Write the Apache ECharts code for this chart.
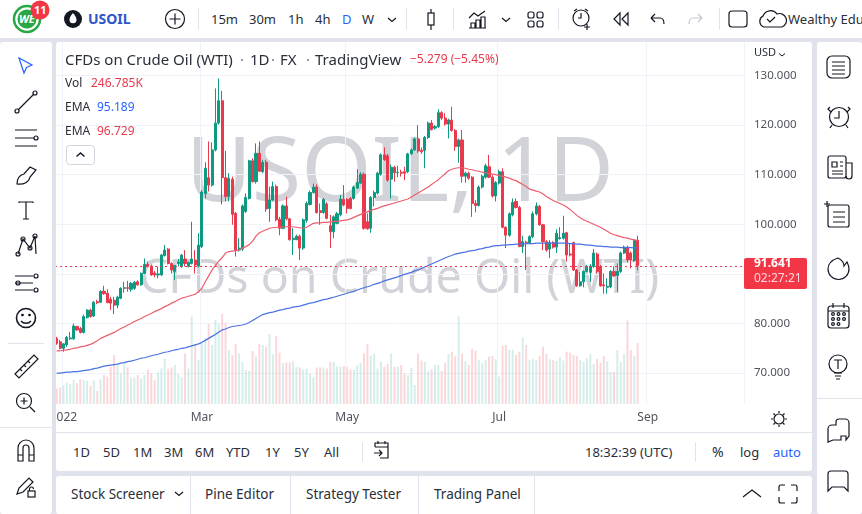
<!DOCTYPE html>
<html>
<head>
<meta charset="utf-8">
<title>USOIL 1D</title>
<script src="https://cdn.jsdelivr.net/npm/echarts@6/dist/echarts.min.js"></script>
<style>
  html, body { margin: 0; padding: 0; background: #e0e3eb; overflow: hidden; }
  #chrome { position: absolute; left: 0; top: 0; }
  #chrome text { font-family: "Noto Sans", sans-serif; font-size: 13px; fill: #2a2e39; }
  #chart { position: absolute; left: 56px; top: 42px; width: 756px; height: 391px; }
</style>
</head>
<body>
<svg id="chrome" width="862" height="514" xmlns="http://www.w3.org/2000/svg"></svg>
<div id="chart"></div>
<script>
// USOIL daily candles
const opens = [
  77.0,76.3,75.0,75.7,76.9,76.9,79.4,79.0,78.2,81.2,
  82.7,81.5,84.4,84.3,86.5,86.1,84.9,84.7,83.7,85.1,
  87.1,87.2,86.9,87.1,88.4,87.8,90.1,91.9,91.6,90.2,
  89.8,89.8,93.7,95.0,92.1,90.5,92.1,91.5,93.0,91.5,
  92.1,92.8,91.6,95.5,106.2,109.4,107.9,115.0,120.4,124.9,
  109.4,105.6,109.1,102.2,94.8,95.0,102.6,105.2,112.8,108.6,
  114.3,110.6,112.5,103.2,104.9,107.6,101.0,99.2,103.7,101.1,
  96.9,96.9,97.6,95.2,100.8,104.0,106.4,107.5,102.75,102.4,
  104.1,99.7,98.5,100.2,101.9,105.0,105.0,105.2,105.2,107.3,
  108.3,110.1,100.5,99.2,105.4,106.3,110.1,114.0,113.8,109.1,
  111.5,110.4,110.5,110.6,110.6,114.2,115.0,117.2,114.9,114.9,
  117.5,120.4,119.4,119.7,122.5,121.4,120.2,121.0,118.9,115.7,
  117.0,109.7,110.3,109.5,104.2,103.8,107.5,109.5,111.6,109.5,
  105.7,108.3,110.6,99.4,97.8,101.9,104.6,103.4,95.5,96.4,
  96.3,97.5,102.1,103.6,99.9,96.5,95.0,96.3,95.4,97.1,
  97.2,98.3,94.0,96.3,90.8,87.6,88.4,90.5,90.3,91.5,
  94.0,91.5,87.8,87.3,87.4,90.5,89.7,90.5,94.2,95.4,
  94.2,92.7,96.8
];
const closes = [
  76.0,75.0,75.9,77.2,77.1,79.5,78.7,78.2,81.4,82.7,
  81.4,84.3,84.2,86.5,86.0,84.2,84.1,83.7,85.3,87.1,
  87.2,87.1,88.1,88.3,87.8,90.1,91.9,91.5,89.8,89.8,
  90.0,93.8,94.8,92.1,90.8,91.7,92.4,93.8,92.1,92.3,
  93.0,91.8,95.8,106.5,111.3,107.9,115.0,120.4,124.9,109.4,
  105.6,109.3,102.0,94.8,95.2,103.7,105.4,112.8,108.6,114.3,
  110.7,112.5,103.1,104.9,107.6,100.9,99.2,103.7,101.1,96.9,
  97.2,97.6,95.2,100.9,104.2,106.4,107.5,102.35,102.35,105.0,
  101.2,98.5,101.5,102.1,105.1,103.9,103.2,103.2,107.5,108.4,
  110.1,99.2,99.1,105.4,106.4,110.3,114.0,113.0,108.9,111.5,
  110.4,110.5,110.3,110.3,114.2,115.0,117.2,114.8,114.6,117.5,
  120.4,119.1,119.7,122.5,121.4,120.2,121.0,118.9,115.7,117.0,
  109.7,110.3,109.3,104.2,103.8,107.5,109.7,111.8,109.5,105.7,
  108.4,110.6,99.4,97.8,102.1,104.4,103.4,95.5,96.5,96.3,
  97.5,102.1,103.7,99.9,96.5,94.8,96.3,95.4,98.2,97.3,
  98.2,93.8,93.8,90.8,87.6,88.4,90.5,91.5,91.6,94.2,
  90.5,87.6,87.6,87.5,90.5,89.6,90.5,94.2,95.4,92.8,
  92.8,96.8,91.641
];
const highs = [
  77.3,76.7,76.0,77.5,78.3,80.0,79.5,79.3,81.8,82.9,
  83.0,84.5,84.8,86.7,87.6,86.9,85.4,85.4,85.6,87.3,
  88.4,88.6,88.4,88.6,88.7,90.3,93.1,92.5,91.9,90.6,
  91.5,94.0,95.8,95.2,92.3,91.8,93.0,94.0,94.8,92.5,
  100.5,94.8,98.2,106.9,112.5,116.7,116.5,127.4,129.4,126.9,
  114.8,110.3,109.6,102.5,97.2,104.0,106.2,113.0,113.3,116.3,
  116.7,113.0,113.0,107.6,108.6,108.0,101.5,104.0,105.6,101.3,
  99.2,97.9,97.9,101.2,104.6,106.8,108.2,108.0,104.2,105.3,
  104.5,101.9,101.8,102.5,105.9,107.9,105.3,105.5,107.8,111.1,
  110.5,110.4,102.2,105.7,106.8,110.6,114.3,115.5,114.2,112.0,
  111.8,111.8,111.0,111.6,114.4,115.3,117.5,120.0,115.5,117.8,
  120.7,121.0,120.0,123.2,122.8,122.4,121.3,123.7,119.2,117.3,
  119.0,110.6,110.6,109.7,104.9,107.8,110.0,112.2,114.0,109.9,
  108.7,111.0,111.3,99.6,102.4,105.2,105.2,103.7,97.7,96.7,
  97.8,102.6,104.4,103.9,100.1,96.8,96.8,96.6,99.0,99.4,
  101.7,98.5,96.2,96.5,91.0,90.4,90.7,91.8,92.0,95.0,
  94.3,91.8,90.1,89.1,90.8,91.5,92.1,94.5,95.7,95.7,
  94.5,97.0,97.7
];
const lows = [
  75.7,74.8,74.3,75.3,76.7,76.7,78.5,78.0,78.0,81.0,
  81.2,81.3,83.9,84.1,85.8,84.1,82.7,81.9,83.1,84.9,
  86.2,86.4,86.4,86.8,87.6,87.6,89.9,91.3,89.6,89.3,
  89.1,89.6,93.5,91.9,90.1,88.8,91.5,91.2,91.5,91.3,
  91.9,90.1,91.3,95.2,105.2,106.6,107.6,114.7,120.1,104.0,
  104.6,104.6,99.9,93.5,94.5,94.6,102.3,105.0,108.4,108.2,
  110.5,110.3,102.5,100.5,104.7,100.6,97.8,99.0,100.8,96.7,
  93.8,96.8,92.8,94.8,100.3,103.8,106.2,102.2,99.9,102.1,
  101.0,95.2,97.2,100.0,101.6,103.6,102.2,103.0,105.0,107.1,
  108.1,98.9,98.9,98.3,103.6,106.0,109.8,112.8,108.6,105.2,
  108.6,109.5,109.6,108.9,110.3,114.0,114.8,114.4,114.2,111.3,
  117.2,118.9,119.1,119.4,121.0,119.9,117.3,118.7,114.8,112.4,
  108.4,108.4,109.0,101.5,102.4,103.6,107.2,109.2,109.3,105.4,
  104.6,108.0,99.2,95.2,97.5,101.6,103.2,95.4,94.2,90.8,
  96.0,97.2,101.8,99.7,94.8,94.5,93.2,95.1,94.2,96.9,
  96.9,92.5,93.5,90.6,87.4,87.4,87.3,90.3,88.4,91.2,
  90.1,87.4,86.0,86.0,87.1,89.4,86.4,90.2,94.0,92.3,
  91.1,92.4,90.7
];
// volume, thousands
const volumes = [
  63,67,77,86,81,97,84,101,97,95,
  73,95,53,100,117,111,151,198,158,124,
  165,148,107,107,117,104,117,140,124,97,
  128,144,185,143,148,158,121,108,205,144,
  354,239,178,246,266,324,239,340,324,365,
  327,219,198,243,205,171,138,134,215,192,
  243,239,232,284,201,275,208,167,169,169,
  174,151,148,140,143,124,108,147,148,147,
  144,171,171,151,151,154,151,140,138,158,
  167,205,243,196,203,144,171,151,162,205,
  151,151,158,124,117,147,77,205,176,171,
  134,140,158,158,134,167,203,212,194,356,
  205,174,158,223,216,178,165,178,192,194,
  181,111,236,239,219,219,198,212,270,239,
  178,182,178,194,232,203,182,178,174,189,
  176,212,208,198,194,178,171,185,203,162,
  182,167,194,174,130,130,219,171,203,338,
  219,194,246.785
];
const emaRed = [
  74.5,74.5,74.6,74.7,74.8,75.0,75.1,75.3,75.4,75.6,
  75.8,76.1,76.5,77.0,77.3,77.6,77.9,78.2,78.6,79.0,
  79.3,79.7,80.0,80.4,80.7,81.0,81.4,81.7,82.0,82.4,
  82.7,83.0,83.4,83.7,84.1,84.4,84.8,85.1,85.3,85.5,
  85.7,85.9,86.4,87.1,88.4,89.6,90.8,91.7,92.6,93.3,
  94.2,94.5,94.6,94.7,94.8,95.2,95.5,95.9,96.6,97.6,
  98.3,98.6,98.9,99.2,99.3,99.4,99.4,99.5,99.5,99.5,
  99.5,99.4,99.3,99.2,99.4,99.8,100.2,100.3,100.3,100.4,
  100.4,100.5,100.6,100.6,100.7,100.8,100.9,101.1,101.4,101.7,
  102.0,102.3,102.5,102.8,103.0,103.2,103.5,103.7,103.9,104.1,
  104.3,104.5,104.7,104.9,105.1,105.5,105.9,106.3,106.7,107.1,
  107.5,108.0,108.5,109.0,109.6,110.2,110.8,111.1,111.3,111.4,
  111.4,111.3,111.1,111.0,110.8,110.7,110.5,110.4,110.2,110.1,
  110.0,109.8,109.7,109.5,109.3,109.0,108.8,108.4,108.0,107.6,
  107.1,106.9,106.7,106.5,106.1,105.6,105.2,104.8,104.5,104.2,
  103.9,103.5,103.0,102.4,101.8,101.3,100.9,100.6,100.3,100.0,
  99.7,99.4,99.0,98.6,98.2,97.9,97.7,97.5,97.3,97.2,
  97.0,96.85,96.729
];
const emaBlue = [
  70.0,70.0,70.1,70.2,70.2,70.3,70.3,70.4,70.5,70.6,
  70.7,70.9,71.0,71.2,71.4,71.5,71.6,71.7,71.8,72.0,
  72.1,72.3,72.4,72.6,72.8,73.0,73.1,73.3,73.5,73.65,
  73.8,74.0,74.2,74.3,74.5,74.7,74.8,75.0,75.1,75.3,
  75.5,75.7,75.9,76.2,76.6,77.0,77.4,77.8,78.3,78.7,
  78.9,79.2,79.4,79.5,79.6,79.7,79.9,80.2,80.6,81.0,
  81.4,81.8,82.0,82.2,82.3,82.5,82.7,82.8,83.0,83.1,
  83.3,83.4,83.5,83.7,83.9,84.1,84.2,84.4,84.6,84.8,
  84.9,85.1,85.3,85.5,85.7,85.9,86.1,86.3,86.5,86.75,
  87.0,87.2,87.4,87.6,87.9,88.1,88.3,88.6,88.8,89.0,
  89.2,89.4,89.7,89.9,90.1,90.3,90.6,90.8,91.1,91.4,
  91.7,92.0,92.3,92.6,92.9,93.2,93.5,93.7,94.0,94.15,
  94.3,94.4,94.6,94.7,94.8,95.0,95.1,95.3,95.4,95.6,
  95.7,95.7,95.8,95.8,95.9,95.9,96.0,96.0,96.0,96.1,
  96.1,96.1,96.2,96.2,96.2,96.2,96.2,96.2,96.2,96.2,
  96.2,96.2,96.1,96.1,96.0,96.0,95.9,95.8,95.8,95.7,
  95.6,95.6,95.5,95.5,95.4,95.4,95.4,95.3,95.3,95.3,
  95.3,95.25,95.189
];
const priceTicks = [70, 80, 90, 100, 110, 120, 130];
const timeLabels = ["2022", "Mar", "May", "Jul", "Sep"];
const timeLabelBars = [2, 43, 86, 131, 175];
const lastPrice = 91.641;

// the pane shows empty bars right of the last candle
const BAR_SLOTS = 204;
const GREEN = "#0e9981";
const RED = "#e8394d";

// ---- window chrome (toolbars around the chart) ----
function label(x, y, str, extra) {
  return `<text x="${x}" y="${y}" ${extra || ""}>${str}</text>`;
}
const stroke = 'fill="none" stroke="#131722" stroke-width="1.2"';

function drawChrome() {
  let s = "";
  // panels
  s += '<rect x="0" y="0" width="862" height="38" fill="#fff"/>';
  s += '<rect x="0" y="42" width="52" height="472" fill="#fff" rx="3"/>';
  s += '<rect x="56" y="42" width="756" height="429" fill="#fff" rx="3"/>';
  s += '<rect x="56" y="476" width="756" height="38" fill="#fff" rx="3"/>';
  s += '<rect x="817" y="42" width="45" height="472" fill="#fff" rx="3"/>';
  s += '<line x1="56" y1="432.5" x2="812" y2="432.5" stroke="#e0e3eb"/>';

  // logo, badge, symbol
  s += '<circle cx="27" cy="19" r="13" fill="#fff" stroke="#27a844" stroke-width="2.5"/>';
  s += '<circle cx="27" cy="19" r="9.5" fill="#27a844"/>';
  s += label(19, 23, "WE", 'style="font-size:11px;font-weight:700;font-style:italic;fill:#fff"');
  s += '<circle cx="40" cy="10" r="9.5" fill="#f23645"/>';
  s += label(34, 14, "11", 'style="font-size:11px;font-weight:700;fill:#fff"');
  s += '<circle cx="73" cy="19" r="9" fill="#131722"/>';
  s += '<path d="M73 13c2.5 3 3.5 5 3.5 6.8a3.5 3.5 0 0 1-7 0c0-1.800 1-3.800 3.500-6.800z" fill="#fff"/>';
  s += label(88, 24, "USOIL", 'style="font-size:14px;font-weight:700;fill:#2f55c9"');
  s += `<circle cx="175" cy="19" r="9.500" ${stroke}/><path d="M175 13.500v11M169.500 19h11" ${stroke}/>`;

  // toolbar separators
  [198, 406, 453, 558, 719].forEach(function (x) {
    s += `<line x1="${x}.5" y1="8" x2="${x}.5" y2="30" stroke="#e0e3eb"/>`;
  });
  s += label(211, 24, "15m") + label(249, 24, "30m") + label(288, 24, "1h") + label(315, 24, "4h");
  s += label(342, 24, "D", 'style="fill:#2962ff"') + label(362, 24, "W");
  s += `<path d="M388 18l4 3.500 4-3.500" ${stroke}/>`;
  s += `<path d="M431 9v21" ${stroke}/><rect x="428" y="13" width="6" height="12" fill="#fff" stroke="#131722" stroke-width="1.2"/>`;
  // indicators, layouts, alert, replay, undo, redo
  s += `<path d="M469 18l5-5 4 3 7-5M469 28h17M471 28v-5h4v5M476 28v-8h4v8M481 28v-11h4v11" ${stroke}/>`;
  s += `<path d="M502 18l4 3.500 4-3.500" ${stroke}/>`;
  s += `<rect x="528" y="12" width="6" height="6" rx="2" ${stroke}/><rect x="537" y="12" width="6" height="6" rx="2" ${stroke}/>`;
  s += `<rect x="528" y="21" width="6" height="6" rx="2" ${stroke}/><rect x="537" y="21" width="6" height="6" rx="2" ${stroke}/>`;
  s += `<circle cx="581" cy="18" r="8" ${stroke}/><path d="M581 13v5h-3M574 11l3-2M588 11l-3-2M587 24v6M584 27h6" ${stroke}/>`;
  s += `<path d="M620 13l-6 6 6 6zM628 13l-6 6 6 6z" ${stroke}/>`;
  s += `<path d="M651 18h9c3 0 4 3 4 6M651 18l4-4M651 18l4 4" ${stroke}/>`;
  s += '<path d="M702 18h-9c-3 0-4 3-4 6M702 18l-4-4M702 18l-4 4" fill="none" stroke="#c4c7cf" stroke-width="1.2"/>';
  s += `<rect x="729" y="11" width="18" height="16" rx="3" ${stroke}/>`;
  s += `<path d="M766 27h-2a6 6 0 0 1-1-11 8 8 0 0 1 14-2 6 6 0 0 1 5 13z" ${stroke}/><path d="M767 19l3 3 5-5" ${stroke}/>`;
  s += label(788, 24, "Wealthy Edu");

  // left drawing tools
  s += '<path d="M19 58l5 15 2.500-5.500 5.500-2.500z" fill="none" stroke="#2962ff" stroke-width="1.200"/>';
  s += `<path d="M18 110l16-16" ${stroke}/><circle cx="17" cy="111" r="2" ${stroke}/><circle cx="35" cy="93" r="2" ${stroke}/>`;
  s += `<path d="M15 130h22M15 138h19M15 146h22" ${stroke}/><circle cx="36" cy="138" r="2" ${stroke}/>`;
  s += `<path d="M17 184c0-6 3-9 7-10l6-7 6 3-6 7c-1 5-6 8-13 7z" ${stroke}/>`;
  s += `<path d="M19 203v-1h14v1M26 202v17M23 219h6" ${stroke}/>`;
  s += `<path d="M18 254l5-15 7 9 5-12 1 18" ${stroke}/><circle cx="18" cy="254" r="2" ${stroke}/><circle cx="23" cy="239" r="2" ${stroke}/><circle cx="30" cy="248" r="2" ${stroke}/><circle cx="35" cy="236" r="2" ${stroke}/>`;
  s += `<path d="M15 276h18M15 283h18M15 290h18" ${stroke}/><circle cx="36" cy="276" r="2" ${stroke}/><circle cx="18" cy="283" r="2" ${stroke}/><circle cx="36" cy="290" r="2" ${stroke}/>`;
  s += '<circle cx="26" cy="318" r="9.500" fill="none" stroke="#131722" stroke-width="1.600"/><circle cx="22.500" cy="315" r="1.300"/><circle cx="29.500" cy="315" r="1.300"/><path d="M21 321c2.500 3 7.500 3 10 0" fill="none" stroke="#131722" stroke-width="1.400"/>';
  s += '<line x1="8" y1="343.500" x2="44" y2="343.500" stroke="#e0e3eb"/>';
  s += `<path d="M15 374l19-19 4 4-19 19zM20 369l2 2M24 365l2 2M28 361l2 2" ${stroke}/>`;
  s += `<circle cx="24" cy="401" r="7.500" ${stroke}/><path d="M30 407l5 5M24 397.500v7M20.500 401h7" ${stroke}/>`;
  s += '<line x1="0" y1="427.500" x2="52" y2="427.500" stroke="#e0e3eb"/>';
  s += `<path d="M18 461v-13a8 8 0 0 1 16 0v13h-5v-13a3 3 0 0 0-6 0v13zM18 455h5M29 455h5" ${stroke}/>`;
  s += `<path d="M17 494l2-6 10-10 4 4-10 10z" ${stroke}/><rect x="28" y="491" width="7" height="6" ${stroke}/><path d="M29.500 491v-2a2 2 0 0 1 4 0" ${stroke}/>`;

  // right panel
  s += `<rect x="827" y="56" width="23" height="22" rx="5" ${stroke}/><path d="M832 62h13M832 66h13M832 70h13M832 74h13" ${stroke}/>`;
  s += `<circle cx="839" cy="117" r="9.500" ${stroke}/><path d="M839 111v7h-5M830 107l-2 2 3 3M848 107l2 2-3 3M832 125l-2 3M846 125l2 3" ${stroke}/>`;
  s += `<rect x="828" y="156" width="18" height="22" rx="2" ${stroke}/><path d="M846 163h6v13a2 2 0 0 1-6 0M832 162h5v5h-5zM840 162h3M840 166h3M832 171h11M832 174h11" ${stroke}/>`;
  s += `<rect x="828" y="205" width="21" height="22" rx="2" ${stroke}/><path d="M824 204h6M827 201v6M833 212h12M833 217h12M833 222h12" ${stroke}/>`;
  s += `<path d="M838 258c-6 2-10 6-10 11a10.500 10.500 0 0 0 21 0c0-3-1-5-2-7l-3 4c0-3-2-6-6-8z" ${stroke}/>`;
  s += `<rect x="828" y="306" width="21" height="22" rx="3" ${stroke}/><path d="M833 303v5M844 303v5M828 311h21" ${stroke}/>`;
  [[833, 314], [838.5, 314], [844, 314], [833, 319], [838.5, 319], [844, 319], [833, 324], [838.5, 324]].forEach(function (d) {
    s += `<circle cx="${d[0]}" cy="${d[1]}" r="1.400" ${stroke}/>`;
  });
  s += `<circle cx="838" cy="364" r="9" ${stroke}/><path d="M834 360h8M838 360v9M834 373h8M835 376h6M836 379h4" ${stroke}/>`;
  s += '<line x1="817" y1="398.500" x2="862" y2="398.500" stroke="#e0e3eb"/>';
  s += `<path d="M828 442v-13a4 4 0 0 1 4-4h4v-3a3 3 0 0 1 3-3h6a4 4 0 0 1 4 4v13l-3 4v-4h-5v4h-8l-5 2z" ${stroke}/>`;
  s += `<path d="M828 491v-17a3 3 0 0 1 3-3h14a3 3 0 0 1 3 3v17l-4-4h-12z" ${stroke}/>`;

  // date range row
  [["1D", 73], ["5D", 103], ["1M", 133], ["3M", 164], ["6M", 195], ["YTD", 226], ["1Y", 265], ["5Y", 294], ["All", 324]].forEach(function (r) {
    s += label(r[1], 457, r[0]);
  });
  s += '<line x1="362.500" y1="442" x2="362.500" y2="462" stroke="#e0e3eb"/>';
  s += `<path d="M375 447v-4h13v15h-8M375 447h13M378 441v3M385 441v3M374 453h8M379 450l3 3-3 3" ${stroke}/>`;
  s += label(585, 457, "18:32:39 (UTC)");
  s += '<line x1="695.500" y1="442" x2="695.500" y2="462" stroke="#e0e3eb"/>';
  s += label(712, 457, "%", 'style="font-size:14px"') + label(740, 457, "log");
  s += label(773, 457, "auto", 'style="fill:#2962ff"');

  // bottom tabs
  const tabFont = 'style="font-size:13.5px"';
  s += label(71, 499, "Stock Screener", tabFont) + label(205, 499, "Pine Editor", tabFont);
  s += label(306, 499, "Strategy Tester", tabFont) + label(434, 499, "Trading Panel", tabFont);
  s += `<path d="M175 492l4 3.500 4-3.500" ${stroke}/>`;
  [190, 290, 418, 534].forEach(function (x) {
    s += `<line x1="${x}.5" y1="476" x2="${x}.5" y2="514" stroke="#e0e3eb"/>`;
  });
  s += `<path d="M743 497l9-7 9 7" ${stroke}/>`;
  s += `<path d="M779 491v-4a2 2 0 0 1 2-2h4M791 485h4a2 2 0 0 1 2 2v4M797 497v4a2 2 0 0 1-2 2h-4M785 503h-4a2 2 0 0 1-2-2v-4" ${stroke}/>`;
  // settings gear beside the time axis
  s += `<circle cx="779" cy="419" r="5" ${stroke}/><path d="M779 411v2M779 425v2M771 419h2M785 419h2M773.500 413.500l1.500 1.500M783 423l1.500 1.500M773.500 424.500l1.500-1.500M783 415l1.500-1.500" ${stroke}/>`;

  document.getElementById("chrome").innerHTML = s;
}
drawChrome();

// ---- chart ----
const categories = [];
for (let i = 0; i < BAR_SLOTS; i++) {
  const at = timeLabelBars.indexOf(i);
  categories.push(at >= 0 ? timeLabels[at] : "");
}
const candles = opens.map(function (o, i) {
  return [o, closes[i], lows[i], highs[i]];
});
const volumeBars = volumes.map(function (v, i) {
  return {
    value: v,
    itemStyle: { color: closes[i] >= opens[i] ? "rgba(8,153,129,0.17)" : "rgba(242,54,69,0.2)" },
  };
});

// page coordinates -> chart coordinates
function overlayText(x, y, str, color, size, weight) {
  return {
    type: "text",
    z: 20,
    silent: true,
    left: x - 56,
    top: y - 42,
    style: {
      text: str,
      fill: color,
      font: (weight || "normal") + " " + size + 'px "Noto Sans", sans-serif',
    },
  };
}
function watermark(cx, cy, str, size) {
  return {
    type: "text",
    z: 0,
    silent: true,
    x: cx - 56,
    y: cy - 42,
    style: {
      text: str,
      fill: "#d1d3d8",
      align: "center",
      verticalAlign: "middle",
      font: size + 'px "Noto Sans", sans-serif',
    },
  };
}

const chart = echarts.init(document.getElementById("chart"));
chart.setOption({
  animation: false,
  backgroundColor: "transparent",
  grid: { left: -1, top: 0, width: 689, height: 362, outerBoundsMode: "none" },
  xAxis: {
    type: "category",
    data: categories,
    boundaryGap: true,
    axisLine: { show: false },
    axisTick: { show: false, alignWithLabel: true },
    axisLabel: {
      interval: function (i, name) { return name !== ""; },
      color: "#50535e",
      fontFamily: "Noto Sans",
      fontSize: 12,
      margin: 8,
      hideOverlap: false,
    },
    splitLine: {
      show: true,
      interval: function (i, name) { return name !== ""; },
      lineStyle: { color: "#f0f3fa", width: 1 },
    },
  },
  yAxis: [
    {
      type: "value",
      position: "right",
      min: 63.77,
      max: 136.75,
      axisLine: { show: false },
      axisTick: { show: false, customValues: priceTicks },
      axisLabel: {
        customValues: priceTicks,
        formatter: function (v) { return v.toFixed(3); },
        color: "#50535e",
        fontFamily: "Noto Sans",
        fontSize: 11.5,
        margin: 10,
      },
      splitLine: { show: true, lineStyle: { color: "#f0f3fa", width: 1 } },
    },
    {
      // volume sits on its own hidden scale
      type: "value",
      min: 0,
      max: 1466,
      show: false,
    },
  ],
  series: [
    {
      name: "Vol",
      type: "bar",
      yAxisIndex: 1,
      barWidth: 2,
      data: volumeBars,
      z: 1,
    },
    {
      name: "USOIL",
      type: "candlestick",
      barWidth: 2.6,
      data: candles,
      z: 3,
      itemStyle: { color: GREEN, color0: RED, borderColor: GREEN, borderColor0: RED, borderWidth: 1 },
      markLine: {
        silent: true,
        symbol: "none",
        label: { show: false },
        lineStyle: { color: RED, type: [2, 3], width: 1 },
        data: [{ yAxis: lastPrice }],
      },
    },
    {
      name: "EMA slow",
      type: "line",
      data: emaBlue,
      showSymbol: false,
      z: 4,
      lineStyle: { color: "#4a72e3", width: 1.2 },
    },
    {
      name: "EMA fast",
      type: "line",
      data: emaRed,
      showSymbol: false,
      z: 4,
      lineStyle: { color: "#ec5d6e", width: 1.2 },
    },
  ],
  graphic: [
    watermark(400, 175, "USOIL, 1D", 90),
    watermark(399, 280, "CFDs on Crude Oil (WTI)", 46.5),

    overlayText(65, 53, "CFDs on Crude Oil (WTI)", "#2a2e39", 15),
    overlayText(240, 53, "·", "#787b86", 15),
    overlayText(250, 53, "1D", "#2a2e39", 15),
    overlayText(271, 53, "·", "#787b86", 15),
    overlayText(280, 53, "FX", "#2a2e39", 15),
    overlayText(306, 53, "·", "#787b86", 15),
    overlayText(315, 53, "TradingView", "#2a2e39", 15),
    overlayText(410, 54, "−5.279 (−5.45%)", RED, 12),
    overlayText(754, 47, "USD", "#2a2e39", 11),

    overlayText(65, 78, "Vol", "#2a2e39", 12),
    overlayText(91, 78, "246.785K", RED, 12),
    overlayText(65, 102, "EMA", "#2a2e39", 12),
    overlayText(97, 102, "95.189", "#2962ff", 12),
    overlayText(65, 126, "EMA", "#2a2e39", 12),
    overlayText(97, 126, "96.729", RED, 12),
    {
      type: "rect",
      z: 20,
      silent: true,
      shape: { x: 10.5, y: 103.5, width: 28, height: 19, r: 3 },
      style: { fill: "#fff", stroke: "#d1d4dc" },
    },
    {
      type: "polyline",
      z: 21,
      silent: true,
      shape: { points: [[20.5, 114.5], [24.5, 111], [28.5, 114.5]] },
      style: { fill: null, stroke: "#131722", lineWidth: 1.4 },
    },
    {
      type: "polyline",
      z: 21,
      silent: true,
      shape: { points: [[723, 11.5], [726, 14], [729, 11.5]] },
      style: { fill: null, stroke: "#131722", lineWidth: 1 },
    },

    // last price tag
    {
      type: "rect",
      z: 20,
      silent: true,
      shape: { x: 688, y: 216, width: 63, height: 31, r: 2 },
      style: { fill: "#f23645" },
    },
    overlayText(754, 258, "91.641", "#ffffff", 12, "bold"),
    overlayText(754, 273, "02:27:21", "#ffd9dd", 12),
  ],
});
</script>
</body>
</html>
